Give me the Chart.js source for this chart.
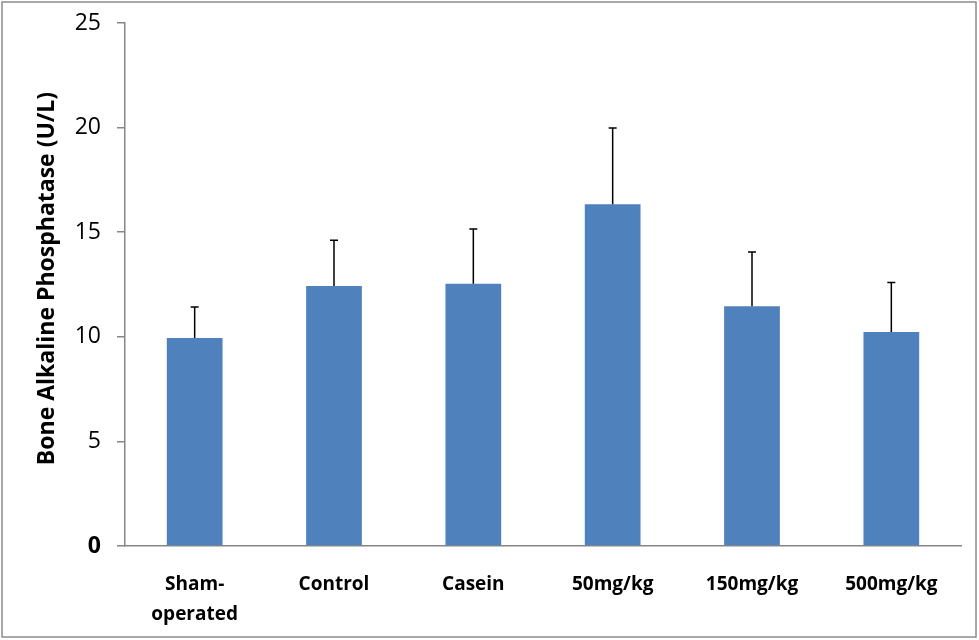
<!DOCTYPE html>
<html>
<head>
<meta charset="utf-8">
<script src="https://cdn.jsdelivr.net/npm/chart.js@4.4.1/dist/chart.umd.min.js"></script>
<style>
  html, body { margin: 0; padding: 0; background: #fff; }
  #wrap { width: 979px; height: 640px; position: relative; }
</style>
</head>
<body>
<div id="wrap"><canvas id="myChart" width="979" height="640"></canvas></div>
<script>
// Datos del gráfico
const categories = [["Sham-", "operated"], "Control", "Casein", "50mg/kg", "150mg/kg", "500mg/kg"];
const values = [9.94, 12.43, 12.53, 16.34, 11.46, 10.23];
const errors = [1.48, 2.18, 2.62, 3.64, 2.59, 2.37];
const yTicks = [0, 5, 10, 15, 20, 25];

const axisGray = "#868686";

// Barras de error (solo hacia arriba)
const errorBars = {
  id: "errorBars",
  afterDatasetsDraw(chart) {
    const ctx = chart.ctx;
    const meta = chart.getDatasetMeta(0);
    const yScale = chart.scales.y;
    ctx.save();
    ctx.strokeStyle = "#000";
    ctx.lineWidth = 1.5;
    meta.data.forEach((bar, i) => {
      const top = yScale.getPixelForValue(values[i] + errors[i]);
      const base = yScale.getPixelForValue(values[i]);
      ctx.beginPath();
      ctx.moveTo(bar.x, base);
      ctx.lineTo(bar.x, top);
      ctx.moveTo(bar.x - 4, top);
      ctx.lineTo(bar.x + 4, top);
      ctx.stroke();
    });
    ctx.restore();
  }
};

// Marco exterior
const frame = {
  id: "frame",
  afterDraw(chart) {
    const ctx = chart.ctx;
    ctx.save();
    ctx.strokeStyle = "#8c8c8c";
    ctx.lineWidth = 1.5;
    ctx.strokeRect(2, 2, 974, 635);
    ctx.restore();
  }
};

const config = {
  type: "bar",
  data: {
    labels: categories,
    datasets: [{
      data: values,
      backgroundColor: "#4F81BD",
      barPercentage: 0.4,
      categoryPercentage: 1
    }]
  },
  options: {
    responsive: false,
    animation: false,
    layout: { padding: { left: 0, right: 18, top: 23, bottom: 0 } },
    plugins: { legend: { display: false }, tooltip: { enabled: false } },
    scales: {
      x: {
        grid: { display: false },
        border: { display: true, color: axisGray, width: 1.5 },
        ticks: {
          color: "#000",
          padding: 16,
          maxRotation: 0,
          font: { family: "Open Sans", size: 19, weight: "bold", lineHeight: 1.55 }
        },
        afterFit(scale) {
          scale.height = 640 - 546;
          scale.paddingLeft = 0;
          scale.paddingRight = 0;
        }
      },
      y: {
        min: 0,
        max: 25,
        afterBuildTicks(scale) { scale.ticks = yTicks.map(v => ({ value: v })); },
        grid: { drawOnChartArea: false, tickLength: 8, color: axisGray, lineWidth: 1.5 },
        border: { display: true, color: axisGray, width: 1.5 },
        ticks: {
          color: "#000",
          padding: 16,
          font: (c) => ({ family: "Open Sans", size: 23, weight: c.tick && c.tick.value === 0 ? "bold" : "normal" })
        },
        title: {
          display: true,
          text: "  Bone Alkaline Phosphatase (U/L)",
          color: "#000",
          font: { family: "Open Sans", size: 23, weight: "bold" },
          padding: { top: 34, bottom: 0 }
        },
        afterFit(scale) {
          scale.width = 125;
          scale.paddingTop = 0;
          scale.paddingBottom = 0;
        }
      }
    }
  },
  plugins: [errorBars, frame]
};

new Chart(document.getElementById("myChart"), config);
</script>
</body>
</html>
